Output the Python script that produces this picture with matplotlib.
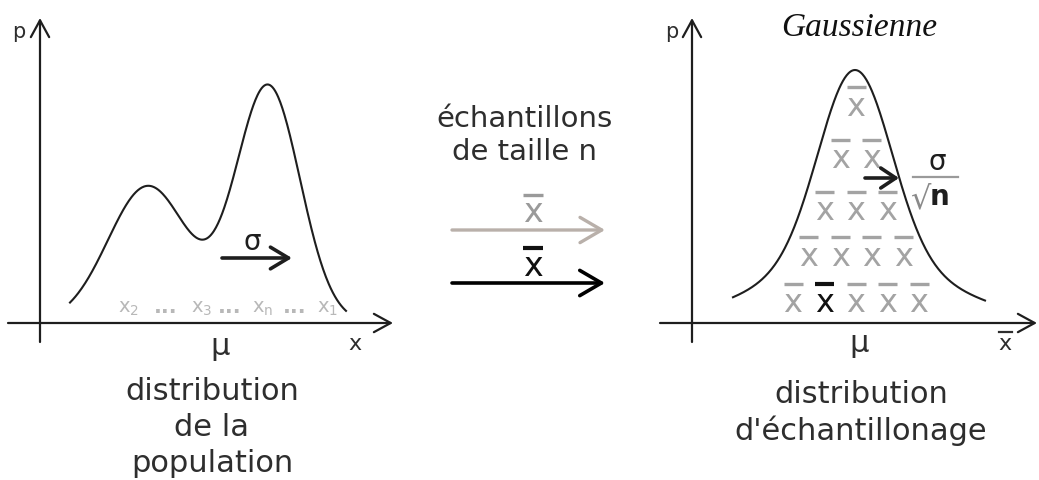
import numpy as np
import matplotlib
matplotlib.use("Agg")
import matplotlib.pyplot as plt

# population density: two gaussian bumps (mean, sd, height in px)
pop_means = [148, 268]
pop_sds = [40, 32]
pop_amps = [137, 237]
pop_range = [70, 346]

# sampling distribution (narrow + broad component, same mean)
samp_mean = 855
samp_sds = [36, 90]
samp_amps = [190, 63]
samp_range = [733, 985]

# sample labels under the population curve
sample_subs = ['2', '3', 'n', '1']
sample_xpos = [128, 202, 263, 328]
dots_xpos = [166, 230, 295]

# stacked sample means (count per row, bottom row first)
row_counts = [5, 4, 3, 2, 1]
row_y = [304, 257, 212, 160, 107]
highlight = (0, 1)  # row, index of the black one

left_title = ['distribution', 'de la', 'population']
right_title = ['distribution', "d'échantillonage"]
mid_title = ['échantillons', 'de taille n']

W, H = 1039, 480
fig = plt.figure(figsize=(W / 100, H / 100), dpi=100)
ax = fig.add_axes([0, 0, 1, 1])
ax.set_xlim(0, W)
ax.set_ylim(H, 0)
ax.axis('off')

base = 323
ink = '#1e1e1e'
txt = '#2e2e2e'


def arrow(x0, y0, x1, y1, color=ink, lw=1.6, hl=0.55, hw=0.3, ms=22):
    ax.annotate('', xy=(x1, y1), xytext=(x0, y0),
                arrowprops=dict(arrowstyle='->,head_length=%s,head_width=%s' % (hl, hw),
                                lw=lw, color=color, mutation_scale=ms,
                                shrinkA=0, shrinkB=0))


def xbar(x, y, size, color, lw=2.2, bw=19, off=20):
    ax.text(x, y, 'x', ha='center', va='center', fontsize=size, color=color)
    ax.plot([x - bw / 2, x + bw / 2], [y - off, y - off], color=color, lw=lw,
            solid_capstyle='butt')


# ---- left panel
arrow(40, 342, 40, 18)
arrow(8, base, 393, base)
ax.text(19, 38, 'p', ha='center', va='baseline', fontsize=15, color=txt)
ax.text(355, 350, 'x', ha='center', va='baseline', fontsize=16, color=txt)
ax.text(220, 355, 'μ', ha='center', va='baseline', fontsize=22, color=txt)

xs = np.linspace(pop_range[0], pop_range[1], 400)
ys = np.zeros_like(xs)
for m, s, a in zip(pop_means, pop_sds, pop_amps):
    ys += a * np.exp(-(xs - m) ** 2 / (2 * s ** 2))
ax.plot(xs, base - ys, color=ink, lw=1.5)

for x, sub in zip(sample_xpos, sample_subs):
    ax.text(x, 313, r'x$_\mathregular{%s}$' % sub, ha='center', va='baseline',
            fontsize=14, color='#b8b8b8')
for x in dots_xpos:
    ax.text(x, 313, '...', ha='center', va='baseline', fontsize=15,
            fontweight='bold', color='#b8b8b8')

arrow(222, 258, 292, 258, lw=2.6, hl=0.5, hw=0.3, ms=26)
ax.text(252, 250, 'σ', ha='center', va='baseline', fontsize=20, color=ink)

for i, line in enumerate(left_title):
    ax.text(212, 400 + i * 36, line, ha='center', va='baseline', fontsize=22, color=txt)

# ---- middle
for i, line in enumerate(mid_title):
    ax.text(525, 127 + i * 33, line, ha='center', va='baseline', fontsize=21, color=txt)
arrow(452, 230, 605, 230, color='#b9b0aa', lw=2.4, hl=0.6, hw=0.35, ms=26)
arrow(452, 283, 605, 283, color='#000000', lw=2.6, hl=0.6, hw=0.35, ms=26)
xbar(533, 212, 24, '#9a9a9a', lw=2.4, bw=20, off=17)
xbar(533, 266, 24, '#111111', lw=3.0, bw=20, off=18)

# ---- right panel
arrow(692, 342, 692, 18)
arrow(660, base, 1037, base)
ax.text(672, 38, 'p', ha='center', va='baseline', fontsize=15, color=txt)
ax.text(859, 36, 'Gaussienne', ha='center', va='baseline', fontsize=24,
        family='Liberation Serif', style='italic', color='#111111')
ax.text(859, 352, 'μ', ha='center', va='baseline', fontsize=22, color=txt)
ax.text(1005, 350, 'x', ha='center', va='baseline', fontsize=16, color=txt)
ax.plot([999, 1012], [332, 332], color=txt, lw=1.6)

xs = np.linspace(samp_range[0], samp_range[1], 400)
ys = np.zeros_like(xs)
for s, a in zip(samp_sds, samp_amps):
    ys += a * np.exp(-(xs - samp_mean) ** 2 / (2 * s ** 2))
ax.plot(xs, base - ys, color=ink, lw=1.5)

for r, (n, y) in enumerate(zip(row_counts, row_y)):
    centre = 856
    for k in range(n):
        x = centre + (k - (n - 1) / 2) * 31.5
        black = (r, k) == highlight
        xbar(x, y, 23, '#111111' if black else '#a3a3a3', lw=3.0 if black else 2.4,
             bw=19, off=20)

arrow(865, 178, 899, 178, lw=2.6, hl=0.45, hw=0.3, ms=24)
ax.text(937, 170, 'σ', ha='center', va='baseline', fontsize=20, color=ink)
ax.plot([913, 958], [177, 177], color='#9a9a9a', lw=1.6)
ax.text(920, 208, '√', ha='center', va='baseline', fontsize=23, color='#8a8a8a')
ax.text(940, 205, 'n', ha='center', va='baseline', fontsize=20, fontweight='bold',
        color=ink)

for i, line in enumerate(right_title):
    ax.text(861, 403 + i * 37, line, ha='center', va='baseline', fontsize=22, color=txt)

fig.savefig('out.png', dpi=100, facecolor='white')
